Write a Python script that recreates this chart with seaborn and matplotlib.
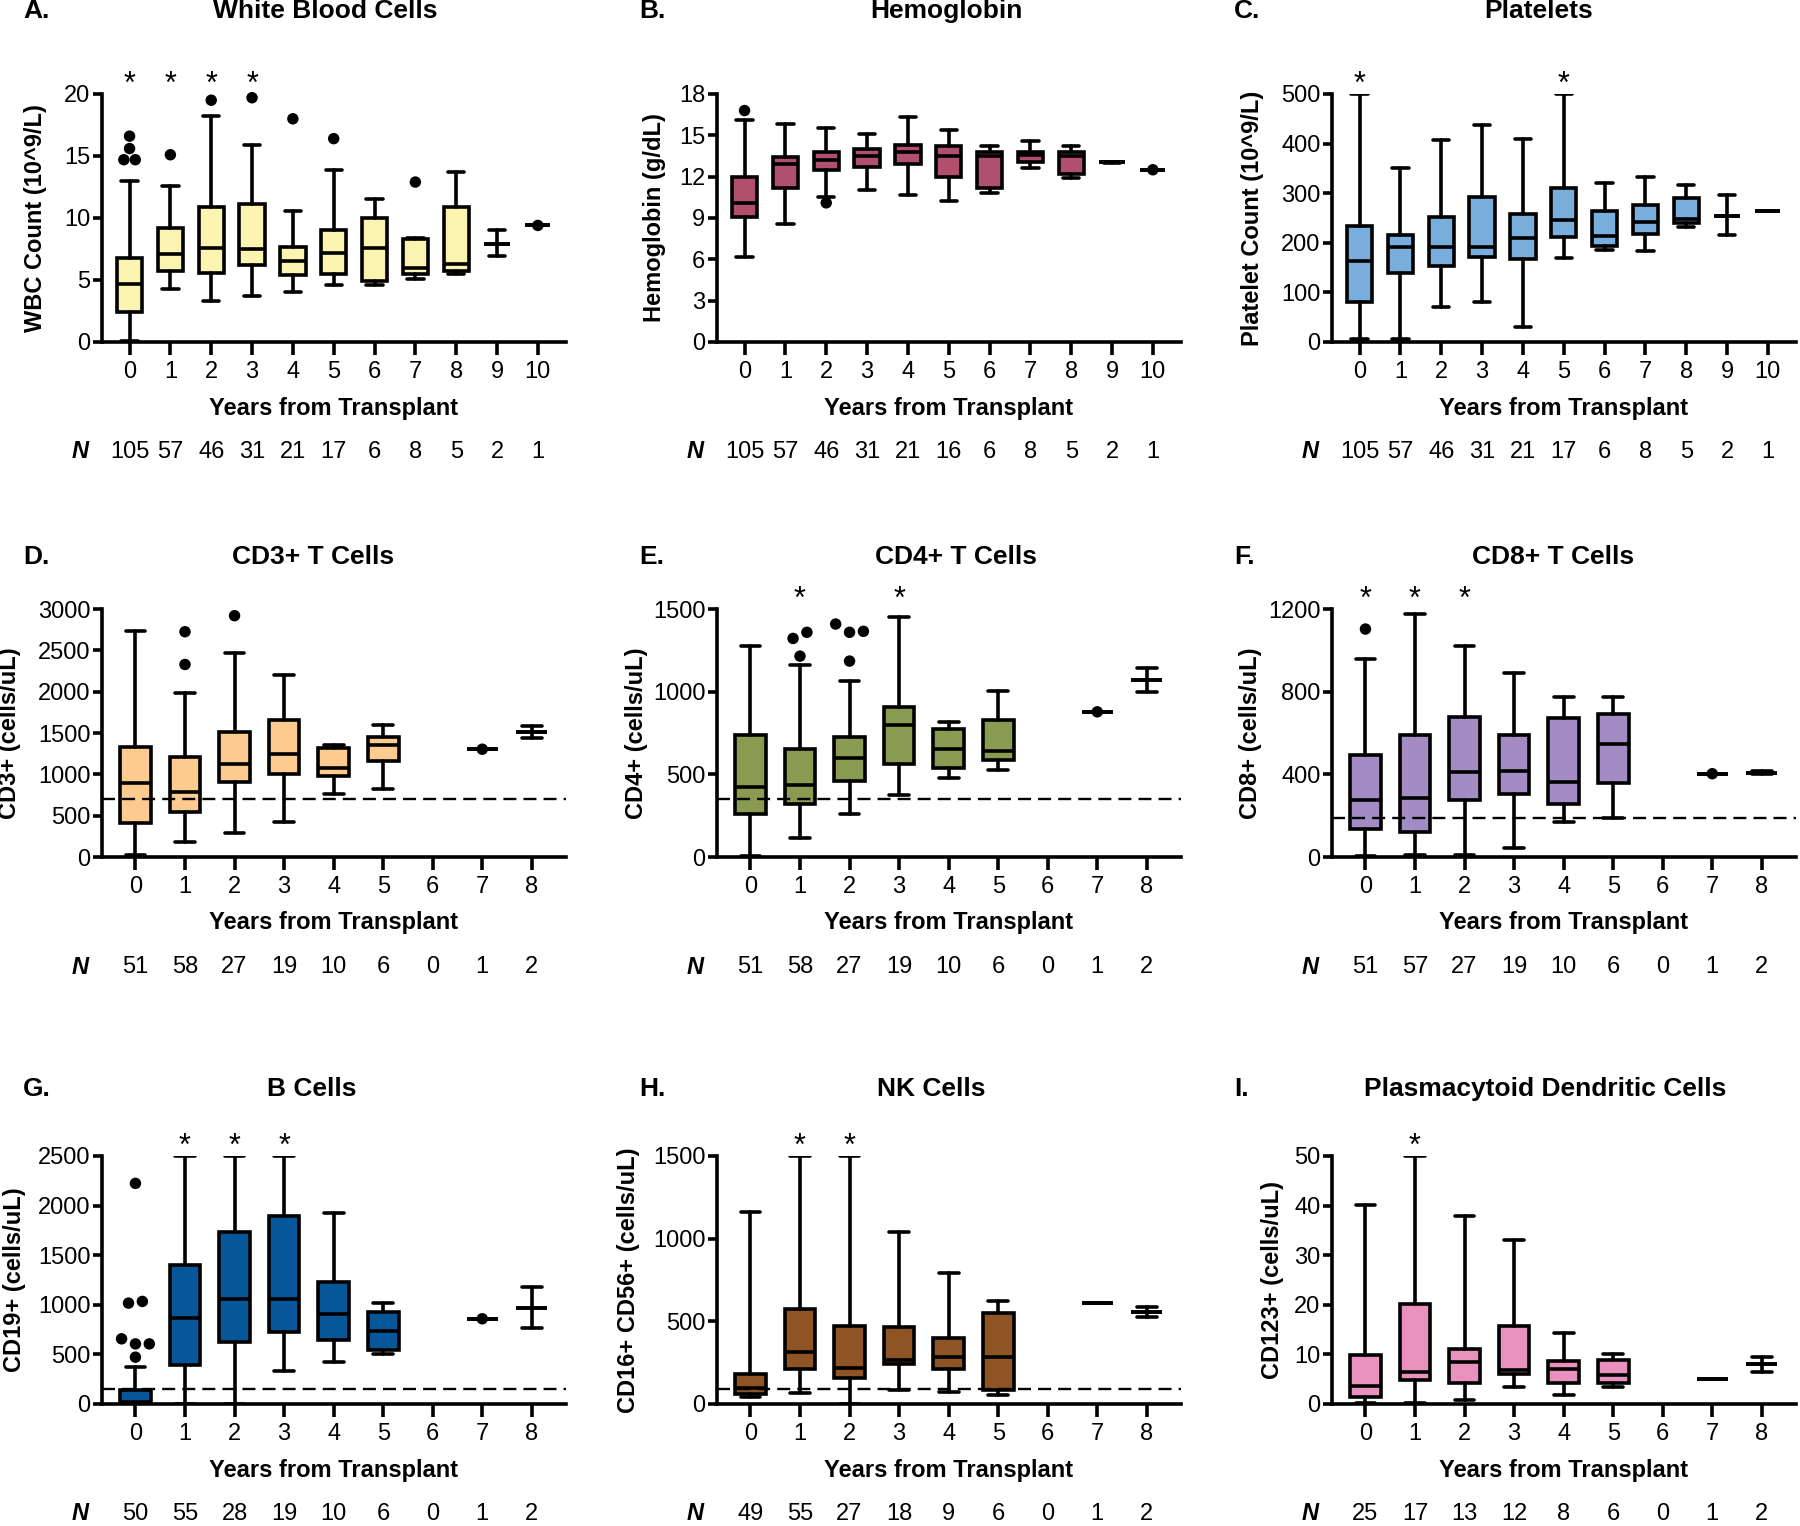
import matplotlib
matplotlib.use("Agg")
import matplotlib.pyplot as plt
import seaborn as sns

# ---- data (box stats per year after transplant) ----
years_11 = list(range(11))
years_9 = list(range(9))

wbc_low = [0.1, 4.3, 3.3, 3.7, 4.0, 4.6, 4.6, 5.1, 5.5, 6.9, 9.4]
wbc_q1 = [2.4, 5.7, 5.6, 6.2, 5.4, 5.5, 4.9, 5.5, 5.7, 7.9, 9.4]
wbc_med = [4.7, 7.1, 7.6, 7.5, 6.5, 7.2, 7.6, 6.0, 6.3, 7.9, 9.4]
wbc_q3 = [6.8, 9.2, 10.9, 11.1, 7.7, 9.0, 10.0, 8.3, 10.9, 7.9, 9.4]
wbc_high = [13.0, 12.6, 18.2, 15.9, 10.6, 13.9, 11.5, 8.4, 13.7, 9.0, 9.4]
wbc_outliers = [[16.6, 15.6, 14.7, 14.7], [15.1], [19.5], [19.7], [18.0], [16.4], [], [12.9], [], [], [9.4]]
wbc_n = [105, 57, 46, 31, 21, 17, 6, 8, 5, 2, 1]
wbc_stars = [0, 1, 2, 3]

hgb_low = [6.2, 8.6, 10.5, 11.0, 10.7, 10.2, 10.8, 12.6, 11.9, 13.0, 12.5]
hgb_q1 = [9.1, 11.2, 12.5, 12.7, 12.9, 12.0, 11.2, 13.1, 12.2, 13.05, 12.5]
hgb_med = [10.1, 12.9, 13.2, 13.5, 13.8, 13.5, 13.5, 13.6, 13.5, 13.05, 12.5]
hgb_q3 = [12.0, 13.4, 13.8, 14.0, 14.3, 14.2, 13.8, 13.8, 13.8, 13.05, 12.5]
hgb_high = [16.1, 15.8, 15.5, 15.1, 16.3, 15.4, 14.2, 14.6, 14.2, 13.1, 12.5]
hgb_outliers = [[16.8], [], [10.1], [], [], [], [], [], [], [], [12.5]]
hgb_n = [105, 57, 46, 31, 21, 16, 6, 8, 5, 2, 1]
hgb_stars = []

plat_low = [7, 7, 70, 80, 30, 170, 186, 184, 231, 216, 265]
plat_q1 = [81, 139, 154, 171, 168, 211, 193, 218, 239, 255, 265]
plat_med = [164, 191, 191, 191, 209, 245, 213, 241, 247, 255, 265]
plat_q3 = [233, 216, 252, 293, 259, 311, 264, 276, 291, 255, 265]
plat_high = [500, 350, 407, 437, 409, 500, 321, 333, 316, 296, 265]
plat_outliers = [[] for _ in years_11]
plat_n = [105, 57, 46, 31, 21, 17, 6, 8, 5, 2, 1]
plat_stars = [0, 5]

cd3_low = [20, 182, 287, 428, 759, 824, None, 1304, 1445]
cd3_q1 = [412, 545, 908, 1009, 977, 1159, None, 1304, 1518]
cd3_med = [896, 787, 1130, 1243, 1078, 1352, None, 1304, 1518]
cd3_q3 = [1332, 1211, 1514, 1655, 1324, 1453, None, 1304, 1518]
cd3_high = [2737, 1986, 2471, 2204, 1352, 1591, None, 1304, 1583]
cd3_outliers = [[], [2329, 2725], [2919], [], [], [], [], [1304], []]
cd3_n = [51, 58, 27, 19, 10, 6, 0, 1, 2]
cd3_stars = []
cd3_cutoff = 700

cd4_low = [6, 115, 262, 373, 480, 529, None, 878, 999]
cd4_q1 = [262, 323, 460, 565, 539, 588, None, 878, 1070]
cd4_med = [422, 434, 600, 797, 652, 644, None, 878, 1070]
cd4_q3 = [737, 656, 727, 909, 773, 828, None, 878, 1070]
cd4_high = [1276, 1161, 1066, 1450, 818, 1003, None, 878, 1141]
cd4_outliers = [[], [1215, 1322, 1359], [1185, 1409, 1359, 1365], [], [], [], [], [878], []]
cd4_n = [51, 58, 27, 19, 10, 6, 0, 1, 2]
cd4_stars = [1, 3]
cd4_cutoff = 350

cd8_low = [3, 11, 11, 44, 168, 188, None, 403, 400]
cd8_q1 = [136, 123, 278, 307, 257, 356, None, 403, 408]
cd8_med = [275, 286, 411, 416, 362, 545, None, 403, 408]
cd8_q3 = [495, 590, 679, 590, 674, 691, None, 403, 408]
cd8_high = [956, 1174, 1022, 890, 776, 776, None, 403, 416]
cd8_outliers = [[1103], [], [], [], [], [], [], [403], []]
cd8_n = [51, 57, 27, 19, 10, 6, 0, 1, 2]
cd8_stars = [0, 1, 2]
cd8_cutoff = 190

cd19_low = [0, 0, 0, 337, 428, 499, None, 859, 765]
cd19_q1 = [10, 394, 630, 724, 647, 546, None, 859, 967]
cd19_med = [25, 866, 1058, 1058, 910, 734, None, 859, 967]
cd19_q3 = [145, 1398, 1735, 1894, 1230, 927, None, 859, 967]
cd19_high = [371, 2500, 2500, 2500, 1927, 1021, None, 859, 1179]
cd19_outliers = [[2224, 1017, 1034, 657, 606, 606, 472], [], [], [], [], [], [], [859], []]
cd19_n = [50, 55, 28, 19, 10, 6, 0, 1, 2]
cd19_stars = [1, 2, 3]
cd19_cutoff = 155

nk_low = [45, 66, 0, 87, 72, 56, None, 610, 525]
nk_q1 = [60, 211, 157, 242, 213, 87, None, 610, 556]
nk_med = [95, 314, 217, 268, 284, 284, None, 610, 556]
nk_q3 = [180, 576, 473, 465, 397, 550, None, 610, 556]
nk_high = [1160, 1500, 1500, 1039, 791, 620, None, 610, 586]
nk_outliers = [[] for _ in years_9]
nk_n = [49, 55, 27, 18, 9, 6, 0, 1, 2]
nk_stars = [1, 2]
nk_cutoff = 88

pdc_low = [0.2, 0.3, 0.8, 3.5, 1.9, 3.4, None, 5.0, 6.4]
pdc_q1 = [1.5, 4.9, 4.2, 6.1, 4.3, 4.3, None, 5.0, 8.0]
pdc_med = [3.7, 6.4, 8.5, 6.9, 7.1, 5.8, None, 5.0, 8.0]
pdc_q3 = [9.8, 20.2, 11.0, 15.8, 8.7, 8.9, None, 5.0, 8.0]
pdc_high = [40.1, 50, 37.9, 33.1, 14.4, 10.0, None, 5.0, 9.5]
pdc_outliers = [[] for _ in years_9]
pdc_n = [25, 17, 13, 12, 8, 6, 0, 1, 2]
pdc_stars = [1]

panels = [
    dict(letter="A.", title="White Blood Cells", ylabel="WBC Count (10^9/L)", years=years_11,
         stats=(wbc_low, wbc_q1, wbc_med, wbc_q3, wbc_high), outliers=wbc_outliers, n=wbc_n,
         stars=wbc_stars, cutoff=None, yticks=[0, 5, 10, 15, 20], color="#FBF4B0"),
    dict(letter="B.", title="Hemoglobin", ylabel="Hemoglobin (g/dL)", years=years_11,
         stats=(hgb_low, hgb_q1, hgb_med, hgb_q3, hgb_high), outliers=hgb_outliers, n=hgb_n,
         stars=hgb_stars, cutoff=None, yticks=[0, 3, 6, 9, 12, 15, 18], color="#B1506E"),
    dict(letter="C.", title="Platelets", ylabel="Platelet Count (10^9/L)", years=years_11,
         stats=(plat_low, plat_q1, plat_med, plat_q3, plat_high), outliers=plat_outliers, n=plat_n,
         stars=plat_stars, cutoff=None, yticks=[0, 100, 200, 300, 400, 500], color="#79AEDC"),
    dict(letter="D.", title="CD3+ T Cells", ylabel="CD3+ (cells/uL)", years=years_9,
         stats=(cd3_low, cd3_q1, cd3_med, cd3_q3, cd3_high), outliers=cd3_outliers, n=cd3_n,
         stars=cd3_stars, cutoff=cd3_cutoff, yticks=[0, 500, 1000, 1500, 2000, 2500, 3000], color="#FDCB90"),
    dict(letter="E.", title="CD4+ T Cells", ylabel="CD4+ (cells/uL)", years=years_9,
         stats=(cd4_low, cd4_q1, cd4_med, cd4_q3, cd4_high), outliers=cd4_outliers, n=cd4_n,
         stars=cd4_stars, cutoff=cd4_cutoff, yticks=[0, 500, 1000, 1500], color="#889B50"),
    dict(letter="F.", title="CD8+ T Cells", ylabel="CD8+ (cells/uL)", years=years_9,
         stats=(cd8_low, cd8_q1, cd8_med, cd8_q3, cd8_high), outliers=cd8_outliers, n=cd8_n,
         stars=cd8_stars, cutoff=cd8_cutoff, yticks=[0, 400, 800, 1200], color="#A38BC3"),
    dict(letter="G.", title="B Cells", ylabel="CD19+ (cells/uL)", years=years_9,
         stats=(cd19_low, cd19_q1, cd19_med, cd19_q3, cd19_high), outliers=cd19_outliers, n=cd19_n,
         stars=cd19_stars, cutoff=cd19_cutoff, yticks=[0, 500, 1000, 1500, 2000, 2500], color="#05579A"),
    dict(letter="H.", title="NK Cells", ylabel="CD16+ CD56+ (cells/uL)", years=years_9,
         stats=(nk_low, nk_q1, nk_med, nk_q3, nk_high), outliers=nk_outliers, n=nk_n,
         stars=nk_stars, cutoff=nk_cutoff, yticks=[0, 500, 1000, 1500], color="#8F5424"),
    dict(letter="I.", title="Plasmacytoid Dendritic Cells", ylabel="CD123+ (cells/uL)", years=years_9,
         stats=(pdc_low, pdc_q1, pdc_med, pdc_q3, pdc_high), outliers=pdc_outliers, n=pdc_n,
         stars=pdc_stars, cutoff=None, yticks=[0, 10, 20, 30, 40, 50], color="#E891BC"),
]

# ---- layout (pixels of the 1800x1526 canvas) ----
W, H = 1800, 1526
col_left = [102, 717, 1332]
col_width = [464, 464, 464]
row_top = [94, 609, 1156]
ax_height = 248
title_x = [325, 946, 1539, 313, 956, 1553, 312, 931, 1545]
title_y = [11, 557, 1089]
letter_x = [23, 639, 1234]
ylabel_offset = [-66, -63, -79, -92, -81, -81, -87, -89, -60]

FS = 17
LW = 2.6
PX = 0.72  # points per pixel at dpi 100

sns.set_theme(style="ticks")
plt.rcParams["font.family"] = ["Liberation Sans", "DejaVu Sans"]
plt.rcParams.update({
    "axes.linewidth": LW,
    "text.color": "black",
    "axes.labelcolor": "black",
    "xtick.color": "black",
    "ytick.color": "black",
    "axes.edgecolor": "black",
})


def spread_points(values, tol, step=0.28):
    """GraphPad-like side-by-side placement of near-equal outliers."""
    offsets = []
    group = []
    for v in values + [None]:
        if group and (v is None or abs(v - group[-1]) > tol):
            k = len(group)
            offsets += [(j - (k - 1) / 2) * step for j in range(k)]
            group = []
        if v is not None:
            group.append(v)
    return offsets


def draw_panel(ax, p):
    low, q1, med, q3, high = p["stats"]
    box_stats, positions = [], []
    for i, year in enumerate(p["years"]):
        if med[i] is None:
            continue
        box_stats.append(dict(whislo=low[i], q1=q1[i], med=med[i], q3=q3[i], whishi=high[i], fliers=[]))
        positions.append(year)

    line = dict(color="black", linewidth=LW)
    ax.bxp(box_stats, positions=positions, widths=0.62, capwidths=0.4, patch_artist=True,
           showfliers=False, manage_ticks=False,
           boxprops=dict(facecolor=p["color"], edgecolor="black", linewidth=LW),
           whiskerprops=line, capprops=line, medianprops=line)

    ymax = p["yticks"][-1]
    xs, ys = [], []
    for year, vals in zip(p["years"], p["outliers"]):
        for off, v in zip(spread_points(vals, 0.04 * ymax), vals):
            xs.append(year + off)
            ys.append(v)
    if xs:
        sns.scatterplot(x=xs, y=ys, color="black", s=68, edgecolor="none", ax=ax,
                        legend=False, clip_on=False, zorder=5)

    if p["cutoff"] is not None:
        ax.axhline(p["cutoff"], color="black", linewidth=1.7, linestyle=(0, (5.5, 3)), zorder=6)

    ax.set_xlim(-0.675, p["years"][-1] + 0.69)
    ax.set_ylim(0, ymax)
    ax.set_xticks(p["years"])
    ax.set_xticklabels([str(y) for y in p["years"]])
    ax.set_yticks(p["yticks"])
    sns.despine(ax=ax)
    ax.tick_params(axis="x", length=9.5, width=LW, labelsize=FS, pad=4)
    ax.tick_params(axis="y", length=6.3, width=LW, labelsize=FS, pad=2)
    ax.grid(False)

    for i in p["stars"]:
        ax.annotate("*", xy=(i, 1), xycoords=("data", "axes fraction"), xytext=(0, 1),
                    textcoords="offset points", ha="center", va="baseline", fontsize=FS + 5)

    ax.annotate("N", xy=(0, 0), xycoords="axes fraction", xytext=(-22 * PX, -110 * PX),
                textcoords="offset points", ha="center", va="center", fontsize=FS,
                fontweight="bold", fontstyle="italic")
    for year, n in zip(p["years"], p["n"]):
        ax.annotate(str(n), xy=(year, 0), xycoords=("data", "axes fraction"), xytext=(0, -110 * PX),
                    textcoords="offset points", ha="center", va="center", fontsize=FS)

    ax.set_xlabel("Years from Transplant", fontsize=FS, fontweight="bold")
    ax.xaxis.label.set_verticalalignment("center")
    ax.xaxis.set_label_coords(0.5, -66 / ax_height)
    ax.set_ylabel(p["ylabel"], fontsize=FS, fontweight="bold")


fig = plt.figure(figsize=(W / 100, H / 100), dpi=100)
for k, p in enumerate(panels):
    r, c = divmod(k, 3)
    rect = [col_left[c] / W, 1 - (row_top[r] + ax_height) / H, col_width[c] / W, ax_height / H]
    ax = fig.add_axes(rect)
    draw_panel(ax, p)
    ax.yaxis.label.set_verticalalignment("center")
    ax.yaxis.set_label_coords(ylabel_offset[k] / col_width[c], 0.5)
    fig.text(title_x[k] / W, 1 - title_y[r] / H, p["title"], ha="center", va="center",
             fontsize=FS + 2, fontweight="bold")
    fig.text(letter_x[c] / W, 1 - title_y[r] / H, p["letter"], ha="left", va="center",
             fontsize=FS + 2, fontweight="bold")

fig.savefig("out.png", dpi=100, facecolor="white")
